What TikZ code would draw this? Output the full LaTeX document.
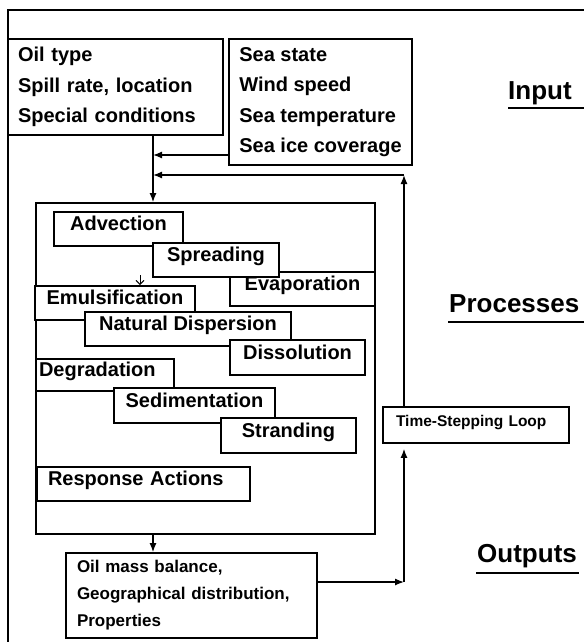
\documentclass[tikz,border=0pt]{standalone}
\usepackage{fontspec}
\setmainfont{Liberation Sans}
\usetikzlibrary{arrows.meta}

\begin{document}
\begin{tikzpicture}[x=1pt,y=-1pt]
		\tikzstyle{fleche}=[-{Latex[length=9pt,width=7pt]},line width=1.3pt]
		\tikzstyle{boite}=[draw,line width=1.8pt,fill=white,inner sep=0pt,font=\fontsize{20}{30.5}\selectfont\bfseries]
		\tikzstyle{etape}=[boite,minimum height=34pt,text height=0.8em,text depth=0.48em]
		\tikzstyle{titre}=[anchor=base west,inner sep=0pt,font=\fontsize{26}{30}\selectfont\bfseries]
		\tikzstyle{souligne}=[line width=2.5pt]
		
		\useasboundingbox (0,0) rectangle (584,642);
		\draw[line width=1.8pt] (8,642) -- (8,10) -- (584,10);
		
		% entrees
		\node[boite,minimum width=215pt,minimum height=96pt,align=left,text width=195pt] (huile) at (115.5,87) {Oil type\\Spill rate, location\\Special conditions};
		\node[boite,minimum width=183pt,minimum height=126pt,align=left] (mer) at (320.5,102) {Sea state\\Wind speed\\Sea temperature\\Sea ice coverage};
		
		% processus
		\node[boite,minimum width=339pt,minimum height=331pt] (processus) at (205.5,368.5) {};
		\node[etape,minimum width=129pt] (advection) at (118.5,229) {Advection};
		\node[etape,minimum width=145pt] (evaporation) at (302.5,289) {Evaporation};
		\node[etape,minimum width=126pt] (etalement) at (216,260) {Spreading};
		\node[etape,minimum width=160pt] (emulsion) at (115,303) {Emulsification};
		\node[etape,minimum width=206pt] (dispersion) at (188,329) {Natural Dispersion};
		\node[etape,minimum width=135pt,minimum height=35pt] (dissolution) at (297.5,357.5) {Dissolution};
		\node[etape,minimum width=138pt,minimum height=32pt,text width=132pt,align=left] (degradation) at (105,375) {Degradation};
		\node[etape,minimum width=161pt,minimum height=35pt] (sedimentation) at (194.5,405.5) {Sedimentation};
		\node[etape,minimum width=135pt,minimum height=35pt] (echouage) at (288.5,435.5) {Stranding};
		\node[etape,minimum width=213pt,text width=191pt,align=left] (intervention) at (143.5,484) {Response Actions};
		
		% sorties et boucle
		\node[boite,minimum width=251pt,minimum height=85pt,align=left,text width=229pt,font=\fontsize{17}{27}\selectfont\bfseries] (sortie) at (191.5,595.5) {Oil mass balance,\\Geographical distribution,\\Properties};
		\node[boite,minimum width=186pt,minimum height=36pt,align=left,text width=160pt,text height=0.8em,text depth=0.48em,font=\fontsize{15.5}{18}\selectfont\bfseries] (boucle) at (476,425) {Time-Stepping Loop};
		
		% titres
		\node[titre] (entree) at (508,99.3) {Input};
		\node[titre] (traitement) at (449,312) {Processes};
		\node[titre] (resultat) at (477,562) {Outputs};
		\draw[souligne] (508,108) -- (584,108);
		\draw[souligne] (448,322) -- (584,322);
		\draw[souligne] (476,573) -- (579,573);
		
		\coordinate (tronc) at (153,135);
		\coordinate (arriveeMer) at (153,155);
		\coordinate (coinHaut) at (404,175);
		\coordinate (arriveeBoucle) at (153,175);
		\coordinate (coinBas) at (404,582);
		\coordinate (talon) at (140,275);
		
		\draw[fleche] (huile.south -| tronc) -- (processus.north -| tronc);
		\draw[fleche] (mer.west |- arriveeMer) -- (arriveeMer);
		\draw[fleche] (boucle.north -| coinHaut) -- (coinHaut);
		\draw[fleche] (coinHaut) -- (arriveeBoucle);
		\draw[fleche] (processus.south -| tronc) -- (sortie.north -| tronc);
		\draw[fleche] (sortie.east |- coinBas) -- (coinBas);
		\draw[fleche,shorten >=5pt] (coinBas) -- (boucle.south -| coinBas);
		\draw[-{Straight Barb[length=4pt,width=8pt]},line width=1pt] (talon) -- (talon |- emulsion.north);
		\end{tikzpicture}
\end{document}
